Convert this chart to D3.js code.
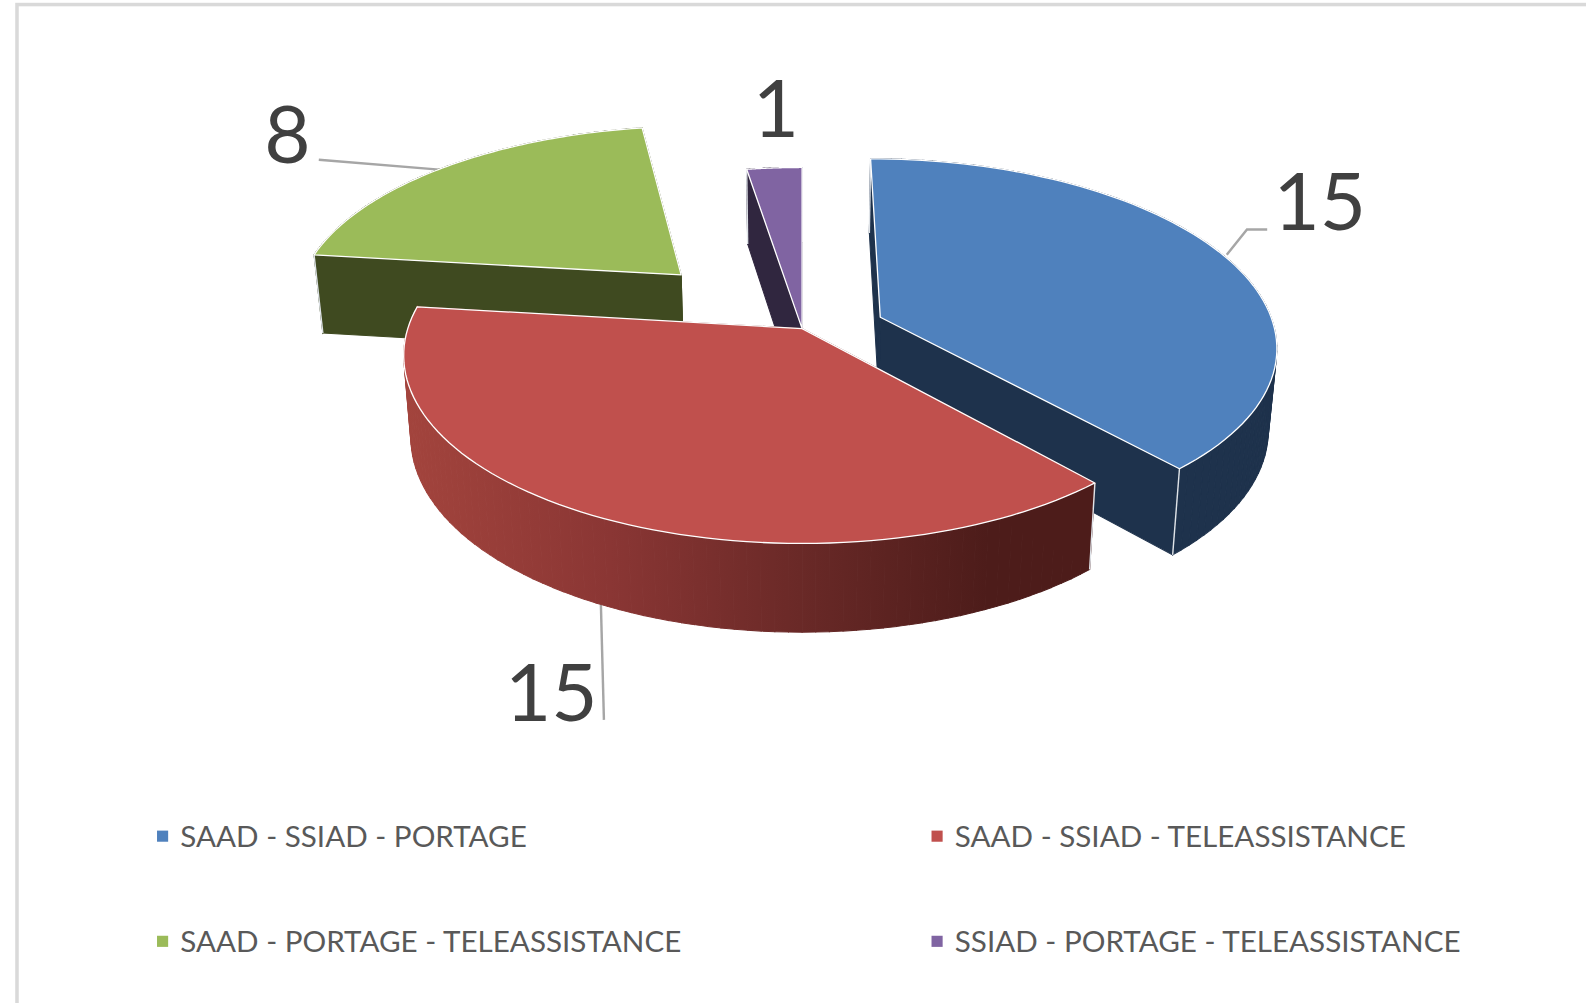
<!DOCTYPE html>
<html><head><meta charset="utf-8">
<script src="https://cdn.jsdelivr.net/npm/d3@7/dist/d3.min.js"></script>
<style>html,body{margin:0;padding:0;background:#fff;overflow:hidden}svg{display:block}</style>
</head><body><svg id="c" width="1586" height="1003" viewBox="0 0 1568 992"></svg>
<script>
const categories = ["SAAD - SSIAD - PORTAGE","SAAD - SSIAD - TELEASSISTANCE","SAAD - PORTAGE - TELEASSISTANCE","SSIAD - PORTAGE - TELEASSISTANCE"];
const values = [15,15,8,1];
const topColors = ["#4f81bd","#c0504d","#9bbb59","#8064a2"];
const wallColors = ["#1e324c","url(#redWall)","#3f4a20","#30263f"];
const explodeX = [0.2,0,-0.32,0];
const explodeY = [0.062,0,0.304,0];
const drawOrder = [2,3,0,1];

const svg = d3.select("#c");
const CX=793, HORIZON=-950, Y0=325, K=7, AX=390, DEPTH=80, SHRINK=0.982;
const xScale = d3.scaleLinear().domain([0,1]).range([0,AX]);
function topPt([X,Y]){const w=1+Y/K;return [CX+xScale(X)/w,HORIZON+(Y0-HORIZON)/w];}
function botPt([X,Y]){const w=1+Y/K,p=topPt([X,Y]);return [CX+(p[0]-CX)*SHRINK,p[1]+DEPTH/Math.pow(w,0.6)];}
const line=d3.line();
const pie=d3.pie().sort(null).startAngle(0).endAngle(2*Math.PI)(values);

const defs=svg.append("defs");
const g=defs.append("linearGradient").attr("id","redWall").attr("gradientUnits","userSpaceOnUse")
 .attr("x1",400).attr("x2",1078).attr("y1",0).attr("y2",0);
[[0,"#a3443d"],[0.3,"#8a3634"],[0.6,"#672826"],[0.85,"#4d1c1a"],[1,"#4d1c1a"]].forEach(s=>g.append("stop").attr("offset",s[0]).attr("stop-color",s[1]));

// frame
svg.append("rect").attr("x",16.5).attr("y",4.5).attr("width",1700).attr("height",1200).attr("fill","#fff").attr("stroke","#d9d9d9").attr("stroke-width",3.5);

// leader lines
const leaders=[[[1213,252],[1233,227],[1253,227]],[[594,598],[597,712]],[[315,158],[437,168]]];
svg.selectAll(".leader").data(leaders).join("path").attr("class","leader")
 .attr("d",d=>line(d)).attr("fill","none").attr("stroke","#a6a6a6").attr("stroke-width",2.4);

drawOrder.forEach(i=>{
 const s=pie[i],ex=explodeX[i],ey=explodeY[i];
 const pt=a=>[ex+Math.sin(a),ey+Math.cos(a)];
 const apex=[ex,ey];
 const steps=d3.range(0,1.0001,1/80).map(t=>s.startAngle+(s.endAngle-s.startAngle)*t);
 const rim=steps.map(pt);
 const gs=svg.append("g");
 // walls are swept as one quad per pair of neighbouring points, so the silhouette stays filled
 const wall=(pts)=>{
  gs.append("g").selectAll("path").data(d3.pairs(pts)).join("path")
   .attr("d",([a,b])=>line([topPt(a),topPt(b),botPt(b),botPt(a)])+"Z")
   .attr("fill",wallColors[i]).attr("stroke",wallColors[i]).attr("stroke-width",1);
 };
 wall([apex,rim[rim.length-1]]);
 wall(rim);
 wall([rim[0],apex]);
 [rim[0],rim[rim.length-1]].forEach(p=>gs.append("path").attr("d",line([topPt(p),botPt(p)])).attr("stroke","#dfe3e8").attr("stroke-width",1.4).attr("fill","none"));
 gs.append("path").attr("d",line([apex].concat(rim).map(topPt))+"Z").attr("fill",topColors[i]).attr("stroke","#fff").attr("stroke-width",1.3).attr("stroke-linejoin","round");
});

// value labels
const labelX=[1305,545,284,767], labelY=[199,685,133,107];
svg.selectAll(".val").data(values).join("text").attr("class","val")
 .attr("x",(d,i)=>labelX[i]).attr("y",(d,i)=>labelY[i]).attr("dy","0.36em").attr("text-anchor","middle")
 .attr("font-family","Lato").attr("font-size",79).attr("fill","#404040").text(d=>d);

// legend
const legX=[155,921,155,921], legY=[827,827,931,931];
const leg=svg.selectAll(".leg").data(categories).join("g").attr("class","leg").attr("transform",(d,i)=>`translate(${legX[i]},${legY[i]})`);
leg.append("rect").attr("x",0).attr("y",-5.5).attr("width",11).attr("height",11).attr("fill",(d,i)=>topColors[i]);
leg.append("text").attr("x",23).attr("y",0).attr("dy","0.36em").attr("font-family","Lato").attr("font-size",29.3).attr("fill","#595959").text(d=>d);
</script></body></html>
